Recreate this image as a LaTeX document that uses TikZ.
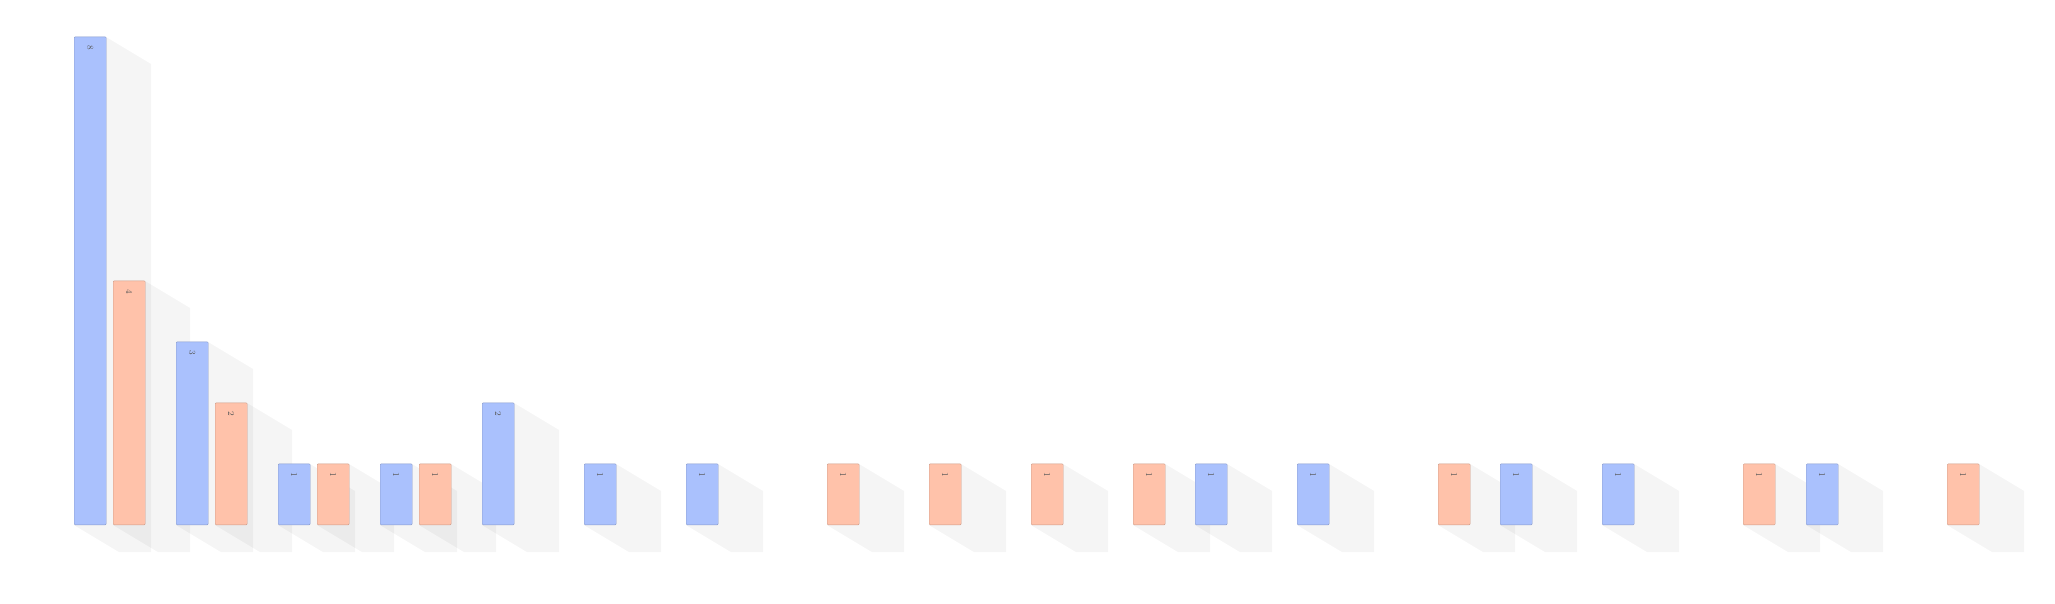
\documentclass[tikz,border=0pt]{standalone}
\usepackage{tikz}
\definecolor{barblue}{HTML}{AAC1FD}
\definecolor{barsalmon}{HTML}{FFC2AA}

\begin{document}
\begin{tikzpicture}[x=1pt,y=-1pt,
		bar/.style={draw=#1!80!black, fill=#1, line width=0.4pt, rounded corners=1pt,
			inner sep=0pt, minimum width=32pt, anchor=south west},
		val/.style={rotate=-90, text=black!65, font=\small, anchor=west}]
		\useasboundingbox (0,0) rectangle (2055,603);

		\foreach \x/\h/\c [count=\i] in {74/8/barblue, 113/4/barsalmon, 176/3/barblue, 215/2/barsalmon,
				278/1/barblue, 317/1/barsalmon, 380/1/barblue, 419/1/barsalmon, 482/2/barblue,
				584/1/barblue, 686/1/barblue, 827/1/barsalmon, 929/1/barsalmon, 1031/1/barsalmon,
				1133/1/barsalmon, 1195/1/barblue, 1297/1/barblue, 1438/1/barsalmon, 1500/1/barblue,
				1602/1/barblue, 1743/1/barsalmon, 1806/1/barblue, 1947/1/barsalmon} {
			% shadow
			\fill[black, opacity=0.04] (\x,525) -- ++(45,27) -- ++(32,0) -- ++(0,-\h*61) -- ++(-45,-27) -- cycle;
			\node[bar=\c, minimum height=\h*61pt] (b\i) at (\x,525) {};
			\node[val] (v\i) at ([yshift=-5pt]b\i.north) {\h};
		}
	\end{tikzpicture}
\end{document}
